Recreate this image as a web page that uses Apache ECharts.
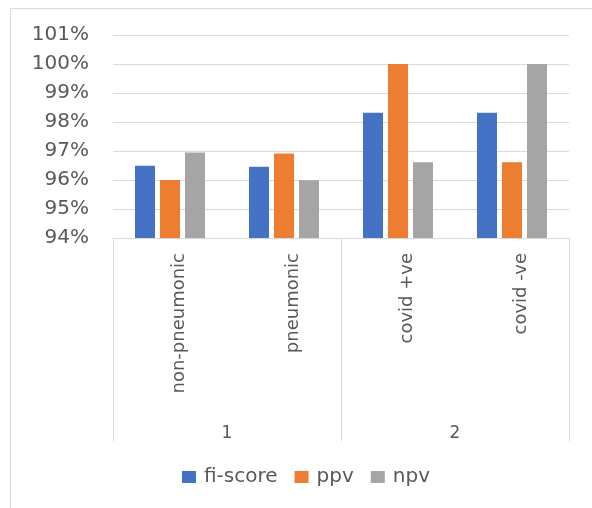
<!DOCTYPE html>
<html><head><meta charset="utf-8">
<script src="https://cdn.jsdelivr.net/npm/echarts@6/dist/echarts.min.js"></script>
<style>html,body{margin:0;padding:0;background:#fff}#c{width:592px;height:508px}</style>
</head><body><div id="c"></div>
<script>
const categories = ['non-pneumonic', 'pneumonic', 'covid +ve', 'covid -ve'];
const groups = ['1', '2'];
const seriesNames = ['fi-score', 'ppv', 'npv'];
const fiScore = [96.49, 96.46, 98.32, 98.32];
const ppv = [96.0, 96.91, 100.0, 96.61];
const npv = [96.95, 95.99, 96.61, 100.0];
const yTicks = { min: 94, max: 101, step: 1 };

const colors = ['#4472C4', '#ED7D31', '#A5A5A5'];
const txt = '#595959';
const font = 'DejaVu Sans';
const chart = echarts.init(document.getElementById('c'), null, { renderer: 'canvas' });
chart.setOption({
  animation: false,
  color: colors,
  textStyle: { fontFamily: font },
  graphic: [{
    type: 'rect', shape: { x: 10.5, y: 8.5, width: 620, height: 540 },
    style: { fill: 'none', stroke: '#d9d9d9', lineWidth: 1 }, silent: true
  }],
  grid: { left: 113, right: 23, top: 35, bottom: 270, containLabel: false },
  legend: {
    data: seriesNames, left: 177, top: 462, itemWidth: 14, itemHeight: 12, itemGap: 17,
    icon: 'rect', textStyle: { color: txt, fontSize: 20, fontFamily: font, padding: [0, 0, 0, 3] }
  },
  xAxis: [{
    type: 'category', data: categories, position: 'bottom',
    axisLine: { show: true, lineStyle: { color: '#d9d9d9' } },
    axisTick: { show: false },
    axisLabel: { rotate: 90, margin: 15, verticalAlign: 'top', color: txt, fontSize: 18, fontFamily: font, interval: 0 }
  }, {
    type: 'category', data: groups, position: 'bottom',
    axisLine: { show: true, lineStyle: { color: '#d9d9d9' } },
    axisTick: { show: true, length: 203, lineStyle: { color: '#d9d9d9' } },
    axisLabel: { margin: 187, color: txt, fontSize: 17, fontFamily: font }
  }],
  yAxis: {
    type: 'value', min: yTicks.min, max: yTicks.max, interval: yTicks.step,
    axisLine: { show: false }, axisTick: { show: false },
    splitLine: { lineStyle: { color: '#d9d9d9', width: 1 } },
    axisLabel: { formatter: '{value}%', margin: 24, color: txt, fontSize: 20, fontFamily: font }
  },
  series: [
    { name: seriesNames[0], type: 'bar', data: fiScore, barGap: '25%', barCategoryGap: '38.6%' },
    { name: seriesNames[1], type: 'bar', data: ppv, barGap: '25%', barCategoryGap: '38.6%' },
    { name: seriesNames[2], type: 'bar', data: npv, barGap: '25%', barCategoryGap: '38.6%' }
  ]
});
</script></body></html>
